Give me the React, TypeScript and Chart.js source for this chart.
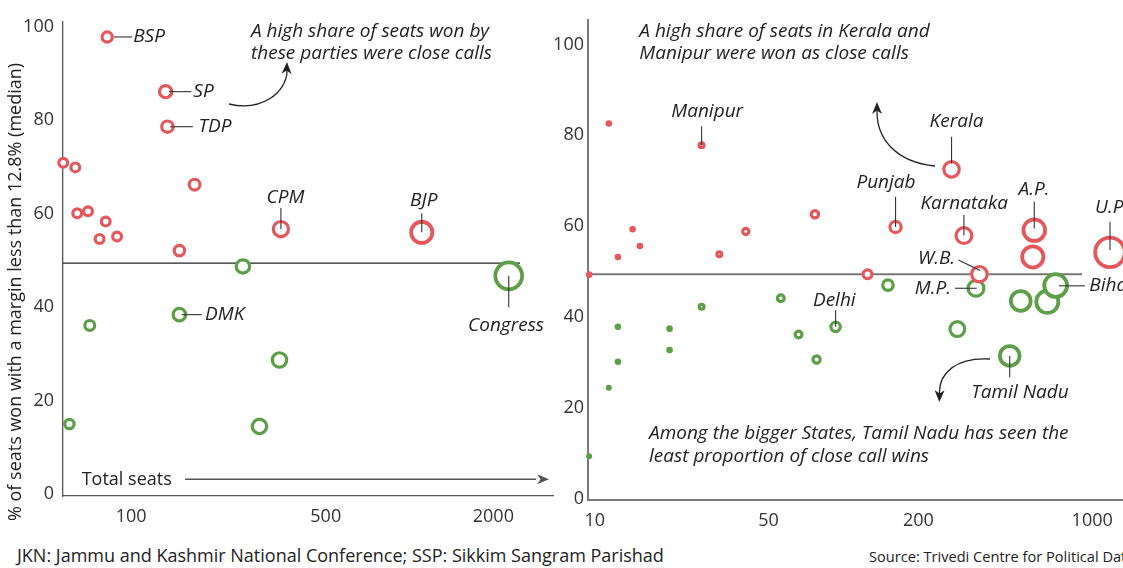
import React, { useEffect, useRef } from "react";
import { Chart, registerables } from "chart.js";

Chart.register(...registerables);

const RED = "#e4575c";
const GREEN = "#5c9f48";
const INK = "#222222";
const FONT = '"Open Sans", "Noto Sans", sans-serif';

// ---------- Left panel: parties ----------
const partyRedSeats = [82, 133, 135, 57, 63, 64, 70, 81, 77, 89, 169, 149, 345, 1106];
const partyRedShare = [97.8, 86.1, 78.6, 70.9, 69.9, 60.1, 60.5, 58.3, 54.6, 55.1, 66.2, 52.1, 56.7, 56.0];
const partyRedSize = [6.7, 7.7, 7.3, 6, 6, 6, 6, 6, 6, 6, 7, 6.8, 9.2, 12.5];
const partyGreenSeats = [252, 2271, 149, 71, 341, 60, 289];
const partyGreenShare = [48.7, 46.7, 38.4, 36.1, 28.7, 15.0, 14.5];
const partyGreenSize = [8.3, 15.3, 7.8, 6.5, 8.8, 6.3, 8.8];
const partyMedian = 49.4;
const partyMedianSpan = [56.9, 2493];
const partyAxisX = [56.9, 3275];
const partyTicksX = [100, 500, 2000];

// ---------- Right panel: states ----------
const stateRedSeats = [11.4, 26.9, 14.2, 12.4, 15.2, 31.7, 40.5, 76.8, 9.5, 272, 162, 305, 585, 577, 1179, 125, 352];
const stateRedShare = [82.6, 77.8, 59.3, 53.2, 55.6, 53.8, 58.8, 62.6, 49.3, 72.5, 59.8, 57.9, 59.1, 53.2, 54.2, 49.4, 49.4];
const stateRedSize = [3.3, 4, 3.3, 3.3, 3.3, 4, 4.7, 5.3, 3.3, 9.3, 7.2, 9.5, 12.7, 12.5, 16.7, 6, 9.3];
const stateGreenSeats = [151, 341, 516, 660, 713, 287, 466, 56, 93, 66, 78, 26.9, 12.4, 20, 20, 12.4, 11.4, 9.5];
const stateGreenShare = [47.0, 46.3, 43.5, 43.3, 46.9, 37.3, 31.4, 44.1, 37.8, 36.1, 30.6, 42.2, 37.8, 37.4, 32.7, 30.1, 24.4, 9.3];
const stateGreenSize = [6.8, 9.5, 11.8, 13, 13.3, 9, 11.7, 5, 6.3, 5, 5.2, 4, 3.3, 3.3, 3.3, 3.3, 3, 3];
const stateMedian = 49.4;
const stateMedianSpan = [9.4, 910];
const stateAxisX = [9.4, 1873];
const stateTicksX = [10, 50, 200, 1000];

const shareTicks = [0, 20, 40, 60, 80, 100];

const Y_TITLE = "% of seats won with a margin less than 12.8% (median)";

type Label = {
  text: string;
  ds: number;
  i: number;
  tx: number;
  ty: number;
  align: CanvasTextAlign;
  line?: number[];
};
type Note = { lines: string[]; x: number; y: number; font: string; lh: number };
type Arrow = { pts: number[]; tip: number[]; straight?: boolean; color: string };

const ITALIC = `italic 19px ${FONT}`;
const UPRIGHT = `18px ${FONT}`;

const leftLabels: Label[] = [
  { text: "BSP", ds: 0, i: 0, tx: 26, ty: 0, align: "left", line: [6.7, 0, 25, 0] },
  { text: "SP", ds: 0, i: 1, tx: 27.7, ty: 0, align: "left", line: [3.3, 0, 25.7, 0] },
  { text: "TDP", ds: 0, i: 2, tx: 31, ty: 0, align: "left", line: [2.7, 0, 25.4, 0] },
  { text: "CPM", ds: 0, i: 12, tx: 4.6, ty: -31, align: "center", line: [0, -21, 0, 0] },
  { text: "BJP", ds: 0, i: 13, tx: 2, ty: -31.3, align: "center", line: [0, -19, 0, 0] },
  { text: "Congress", ds: 1, i: 1, tx: -2.7, ty: 50, align: "center", line: [0, 0, 0, 31.3] },
  { text: "DMK", ds: 1, i: 2, tx: 25.7, ty: 0, align: "left", line: [2.4, 0, 22.4, 0] },
];
const leftNotes: Note[] = [
  { lines: ["A high share of seats won by", "these parties were close calls"], x: 251, y: 31.7, font: ITALIC, lh: 21.6 },
  { lines: ["Total seats"], x: 81.7, y: 479.5, font: UPRIGHT, lh: 20 },
];
const leftArrows: Arrow[] = [
  { pts: [229, 104, 262, 112, 286, 92, 287, 72], tip: [287, 62], color: INK },
  { pts: [185, 479.3, 536, 479.3], tip: [549, 479.3], straight: true, color: "#555" },
];

const rightLabels: Label[] = [
  { text: "Manipur", ds: 0, i: 1, tx: 5.6, ty: -34, align: "center", line: [0, -19, 0, 0] },
  { text: "Kerala", ds: 0, i: 9, tx: 5, ty: -47.6, align: "center", line: [0, -32.6, 0, -6] },
  { text: "Punjab", ds: 0, i: 10, tx: -9.6, ty: -44.3, align: "center", line: [0, -30.3, 0, 0] },
  { text: "Karnataka", ds: 0, i: 11, tx: 0.3, ty: -31.7, align: "center", line: [0, -20.7, 0, 0] },
  { text: "A.P.", ds: 0, i: 12, tx: -0.3, ty: -40.7, align: "center", line: [0, -28.3, 0, -1.7] },
  { text: "U.P.", ds: 0, i: 14, tx: -15, ty: -44.6, align: "left", line: [0, -30.6, 0, -2.3] },
  { text: "W.B.", ds: 0, i: 16, tx: -24.3, ty: -15.3, align: "right", line: [-21, -14.3, 0.7, -3.6] },
  { text: "M.P.", ds: 1, i: 1, tx: -25, ty: 0, align: "right", line: [-21, 0, 0.7, 0] },
  { text: "Bihar", ds: 1, i: 4, tx: 33.6, ty: 0.3, align: "left", line: [3.3, 0.3, 29.3, 0.3] },
  { text: "Tamil Nadu", ds: 1, i: 6, tx: 10.3, ty: 36.7, align: "center", line: [0, 0, 0, 21.3] },
  { text: "Delhi", ds: 1, i: 8, tx: -1.3, ty: -26.7, align: "center", line: [0, -16.7, 0, 0] },
];
const rightNotes: Note[] = [
  { lines: ["A high share of seats in Kerala and", "Manipur were won as close calls"], x: 639.3, y: 31.7, font: ITALIC, lh: 21.6 },
  { lines: ["Among the bigger States, Tamil Nadu has seen the", "least proportion of close call wins"], x: 649, y: 434, font: ITALIC, lh: 22.7 },
];
const rightArrows: Arrow[] = [
  { pts: [935, 166, 895, 162, 877, 138, 877, 112], tip: [877, 102], color: INK },
  { pts: [990, 359, 955, 357, 940, 374, 939.5, 391], tip: [939.3, 402], color: INK },
];

const LEFT_CANVAS_X = 0;
const RIGHT_CANVAS_X = 530;

function ringStyle(sizes: number[], color: string) {
  const bw = (s: number) => (s <= 3.4 ? 0 : s > 11 ? 3.8 : 3.2);
  const radius = sizes.map((s) => (s <= 3.4 ? s : s - bw(s) / 2));
  const widths = sizes.map(bw);
  return {
    pointRadius: radius,
    pointHoverRadius: radius,
    pointBorderWidth: widths,
    pointHoverBorderWidth: widths,
    pointBackgroundColor: sizes.map((s) => (s <= 3.4 ? color : "#ffffff")),
    pointBorderColor: color,
    showLine: false,
    clip: false as any,
  };
}

function drawArrowHead(ctx: CanvasRenderingContext2D, fx: number, fy: number, tx: number, ty: number, color: string) {
  const dx = tx - fx;
  const dy = ty - fy;
  const len = Math.hypot(dx, dy) || 1;
  const ux = dx / len;
  const uy = dy / len;
  const L = 12;
  const W = 5;
  const bx = tx - ux * L;
  const by = ty - uy * L;
  ctx.beginPath();
  ctx.moveTo(tx, ty);
  ctx.lineTo(bx - uy * W, by + ux * W);
  ctx.lineTo(tx - ux * L * 0.7, ty - uy * L * 0.7);
  ctx.lineTo(bx + uy * W, by - ux * W);
  ctx.closePath();
  ctx.fillStyle = color;
  ctx.fill();
}

function annotationPlugin(id: string, offsetX: number, labels: Label[], notes: Note[], arrows: Arrow[], yTitle: boolean) {
  return {
    id,
    afterDraw(chart: any) {
      const ctx: CanvasRenderingContext2D = chart.ctx;
      ctx.save();
      ctx.translate(-offsetX, 0);
      ctx.fillStyle = INK;
      ctx.textBaseline = "middle";
      ctx.textAlign = "left";
      for (const n of notes) {
        ctx.font = n.font;
        n.lines.forEach((t, k) => ctx.fillText(t, n.x, n.y + k * n.lh));
      }
      for (const a of arrows) {
        ctx.strokeStyle = a.color;
        ctx.lineWidth = a.straight ? 1.5 : 1.3;
        ctx.beginPath();
        const p = a.pts;
        ctx.moveTo(p[0], p[1]);
        if (a.straight) ctx.lineTo(p[2], p[3]);
        else ctx.bezierCurveTo(p[2], p[3], p[4], p[5], p[6], p[7]);
        ctx.stroke();
        const fx = p[p.length - 2];
        const fy = p[p.length - 1];
        drawArrowHead(ctx, a.straight ? p[0] : p[p.length - 4], a.straight ? p[1] : p[p.length - 3], a.tip[0], a.tip[1], a.color);
        if (!a.straight) {
          ctx.beginPath();
          ctx.moveTo(fx, fy);
          ctx.lineTo(a.tip[0], a.tip[1] + (a.tip[1] < fy ? 4 : -4));
          ctx.stroke();
        }
      }
      if (yTitle) {
        ctx.save();
        ctx.translate(16, 292);
        ctx.rotate(-Math.PI / 2);
        ctx.textAlign = "center";
        ctx.font = `18px ${FONT}`;
        ctx.fillStyle = INK;
        ctx.fillText(Y_TITLE, 0, 0);
        ctx.restore();
      }
      ctx.restore();

      ctx.save();
      ctx.font = ITALIC;
      ctx.textBaseline = "middle";
      for (const lb of labels) {
        const el = chart.getDatasetMeta(lb.ds).data[lb.i];
        if (!el) continue;
        const x = el.x;
        const y = el.y;
        if (lb.line) {
          ctx.beginPath();
          ctx.moveTo(x + lb.line[0], y + lb.line[1]);
          ctx.lineTo(x + lb.line[2], y + lb.line[3]);
          ctx.strokeStyle = "#333";
          ctx.lineWidth = 1.1;
          ctx.stroke();
        }
        ctx.fillStyle = INK;
        ctx.textAlign = lb.align;
        ctx.fillText(lb.text, x + lb.tx, y + lb.ty);
      }
      ctx.restore();
    },
  };
}

function makeConfig(opts: {
  redX: number[]; redY: number[]; redS: number[];
  greenX: number[]; greenY: number[]; greenS: number[];
  median: number; medianSpan: number[]; axisX: number[]; ticksX: number[];
  yMin: number; yMax: number; yWidth: number; xHeight: number;
  padTop: number; padRight: number; axisColor: string; axisWidth: number;
  medianColor: string; medianWidth: number; yPad: number; plugin: any;
}) {
  const tickFont = { family: FONT, size: 18 };
  return {
    type: "scatter" as const,
    data: {
      datasets: [
        { ...ringStyle(opts.redS, RED), data: opts.redX.map((x, i) => ({ x, y: opts.redY[i] })) },
        { ...ringStyle(opts.greenS, GREEN), data: opts.greenX.map((x, i) => ({ x, y: opts.greenY[i] })) },
        {
          data: opts.medianSpan.map((x) => ({ x, y: opts.median })),
          showLine: true,
          pointRadius: 0,
          pointHoverRadius: 0,
          borderColor: opts.medianColor,
          borderWidth: opts.medianWidth,
          clip: false as any,
          order: 5,
        },
      ],
    },
    options: {
      responsive: false,
      animation: false as const,
      events: [] as any,
      layout: { autoPadding: false, padding: { top: opts.padTop, right: opts.padRight, left: 0, bottom: 0 } },
      plugins: { legend: { display: false }, tooltip: { enabled: false } },
      scales: {
        x: {
          type: "logarithmic" as const,
          bounds: "data" as const,
          min: opts.axisX[0],
          max: opts.axisX[1],
          grid: { display: false, drawTicks: false },
          border: { display: true, color: opts.axisColor, width: opts.axisWidth },
          ticks: {
            font: tickFont,
            color: "#333",
            padding: 10,
            maxRotation: 0,
            autoSkip: false,
            callback: (v: any) => String(v),
          },
          afterBuildTicks: (s: any) => {
            s.ticks = opts.ticksX.map((v) => ({ value: v }));
          },
          afterFit: (s: any) => {
            s.height = opts.xHeight;
            s.paddingLeft = 0;
            s.paddingRight = 0;
          },
        },
        y: {
          type: "linear" as const,
          min: opts.yMin,
          max: opts.yMax,
          grid: { display: false, drawTicks: false },
          border: { display: true, color: opts.axisColor, width: opts.axisWidth },
          ticks: {
            font: tickFont,
            color: "#333",
            padding: opts.yPad,
            autoSkip: false,
            callback: (v: any) => String(v),
          },
          afterBuildTicks: (s: any) => {
            s.ticks = shareTicks.map((v) => ({ value: v }));
          },
          afterFit: (s: any) => {
            s.width = opts.yWidth;
            s.paddingTop = 0;
            s.paddingBottom = 0;
          },
        },
      },
    },
    plugins: [opts.plugin],
  };
}

export default function App() {
  const leftRef = useRef<HTMLCanvasElement>(null);
  const rightRef = useRef<HTMLCanvasElement>(null);

  useEffect(() => {
    Chart.defaults.font.family = FONT;
    const left = new Chart(
      leftRef.current as HTMLCanvasElement,
      makeConfig({
        redX: partyRedSeats, redY: partyRedShare, redS: partyRedSize,
        greenX: partyGreenSeats, greenY: partyGreenShare, greenS: partyGreenSize,
        median: partyMedian, medianSpan: partyMedianSpan, axisX: partyAxisX, ticksX: partyTicksX,
        yMin: -0.4, yMax: 101, yWidth: 63, xHeight: 44, padTop: 22, padRight: 7,
        axisColor: "#555", axisWidth: 1.3, medianColor: "#222", medianWidth: 1.2, yPad: 9,
        plugin: annotationPlugin("leftNotes", LEFT_CANVAS_X, leftLabels, leftNotes, leftArrows, true),
      }) as any
    );
    const right = new Chart(
      rightRef.current as HTMLCanvasElement,
      makeConfig({
        redX: stateRedSeats, redY: stateRedShare, redS: stateRedSize,
        greenX: stateGreenSeats, greenY: stateGreenShare, greenS: stateGreenSize,
        median: stateMedian, medianSpan: stateMedianSpan, axisX: stateAxisX, ticksX: stateTicksX,
        yMin: -0.35, yMax: 105.4, yWidth: 58, xHeight: 40, padTop: 20, padRight: 0,
        axisColor: "#7a7a7a", axisWidth: 2, medianColor: "#777", medianWidth: 2, yPad: 4,
        plugin: annotationPlugin("rightNotes", RIGHT_CANVAS_X, rightLabels, rightNotes, rightArrows, false),
      }) as any
    );
    return () => {
      left.destroy();
      right.destroy();
    };
  }, []);

  return (
    <div
      style={{
        position: "absolute",
        left: 0,
        top: 0,
        width: 1123,
        height: 568,
        overflow: "hidden",
        background: "#ffffff",
      }}
    >
      <canvas
        ref={leftRef}
        width={560}
        height={540}
        style={{ position: "absolute", left: LEFT_CANVAS_X, top: 0, width: 560, height: 540 }}
      />
      <canvas
        ref={rightRef}
        width={630}
        height={540}
        style={{ position: "absolute", left: RIGHT_CANVAS_X, top: 0, width: 630, height: 540 }}
      />
      <div
        style={{
          position: "absolute",
          left: 17,
          top: 544,
          font: `18px ${FONT}`,
          lineHeight: "22px",
          color: "#222",
          whiteSpace: "nowrap",
        }}
      >
        JKN: Jammu and Kashmir National Conference; SSP: Sikkim Sangram Parishad
      </div>
      <div
        style={{
          position: "absolute",
          left: 869,
          top: 546,
          font: `14.6px ${FONT}`,
          lineHeight: "20px",
          color: "#222",
          whiteSpace: "nowrap",
        }}
      >
        Source: Trivedi Centre for Political Data
      </div>
    </div>
  );
}
